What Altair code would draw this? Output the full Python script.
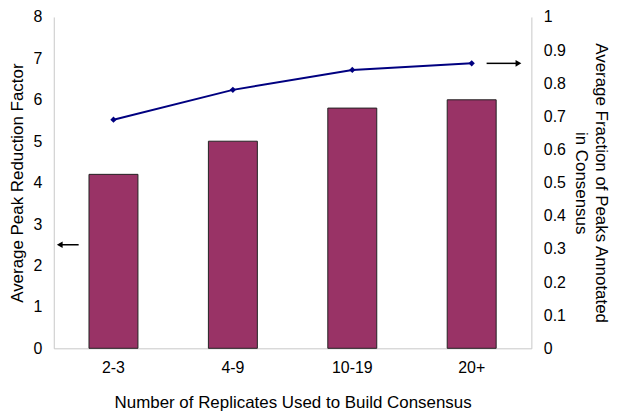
import altair as alt
import pandas as pd

categories = ["2-3", "4-9", "10-19", "20+"]
peak_reduction = [4.2, 5.0, 5.8, 6.0]
fraction_annotated = [0.69, 0.78, 0.84, 0.86]
left_arrow_value = [2.5]
right_arrow_value = [0.86]

df = pd.DataFrame({"cat": categories, "red": peak_reduction, "frac": fraction_annotated})
df_la = pd.DataFrame({"red": left_arrow_value})
df_ra = pd.DataFrame({"frac": right_arrow_value})

FONT = "Liberation Sans"
AXIS_COL = "#c8c8c8"

x_enc = alt.X(
    "cat:N", sort=categories,
    scale=alt.Scale(paddingInner=0.59, paddingOuter=0.295),
    axis=alt.Axis(title="Number of Replicates Used to Build Consensus", labelAngle=0,
                  ticks=False, labelPadding=11, titlePadding=19, titleFontSize=17),
)

y_left = alt.Y("red:Q", scale=alt.Scale(domain=[0, 8]),
               axis=alt.Axis(title="Average Peak Reduction Factor", values=list(range(0, 9)),
                             orient="left", ticks=False, labelPadding=12, titlePadding=7))
y_right = alt.Y("frac:Q", scale=alt.Scale(domain=[0, 1]),
                axis=alt.Axis(title=["Average Fraction of Peaks Annotated", "in Consensus"],
                              orient="right", values=[i / 10 for i in range(0, 11)],
                              format=".1~f", ticks=False, labelPadding=12, titlePadding=6,
                              titleAngle=90, titleLineHeight=20))

bars = alt.Chart(df).mark_bar(color="#993366", stroke="#222222", strokeWidth=1).encode(
    x=x_enc, y=y_left)

la_rule = alt.Chart(df_la).mark_rule(color="black", strokeWidth=1.5).encode(
    x=alt.value(7), x2=alt.value(25), y=y_left)
la_head = alt.Chart(df_la).mark_point(shape="triangle-left", filled=True, color="black",
                                      size=45, opacity=1).encode(
    x=alt.value(6), y=y_left)

left_layer = alt.layer(bars, la_rule, la_head)

line = alt.Chart(df).mark_line(color="#000080", strokeWidth=2,
                               point=alt.OverlayMarkDef(shape="diamond", filled=True,
                                                         color="#000080", size=40)).encode(
    x=alt.X("cat:N", sort=categories), y=y_right)

ra_rule = alt.Chart(df_ra).mark_rule(color="black", strokeWidth=1.5).encode(
    x=alt.value(435), x2=alt.value(466), y=y_right)
ra_head = alt.Chart(df_ra).mark_point(shape="triangle-right", filled=True, color="black",
                                      size=45, opacity=1).encode(
    x=alt.value(467), y=y_right)

right_layer = alt.layer(line, ra_rule, ra_head)

chart = alt.layer(left_layer, right_layer).resolve_scale(y="independent").properties(
    width=480, height=333, background="white", padding=0
).configure_view(stroke=None).configure_axis(
    grid=False, domainColor=AXIS_COL, tickColor=AXIS_COL,
    labelFont=FONT, titleFont=FONT, labelFontSize=16, titleFontSize=17,
    labelColor="#000000", titleColor="#000000", titleFontWeight="normal",
)

chart.save("out.html", embed_options={"renderer": "svg", "actions": False})
